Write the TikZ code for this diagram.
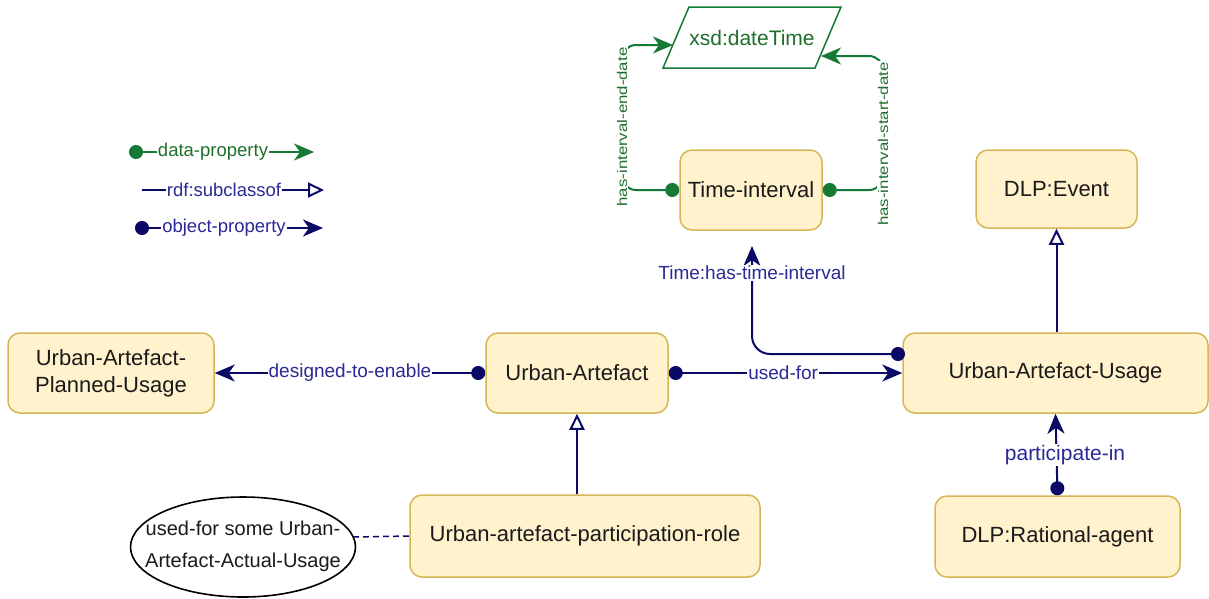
\documentclass[tikz,border=0pt]{standalone}
\usepackage{fontspec}
\setmainfont{Liberation Sans}
\usetikzlibrary{arrows.meta,shapes.geometric}
\definecolor{boxfill}{HTML}{FFF2CC}
\definecolor{boxdraw}{HTML}{D6B656}
\definecolor{objc}{HTML}{0A0A66}
\definecolor{objtxt}{HTML}{2A2A96}
\definecolor{datac}{HTML}{157A35}
\definecolor{datatxt}{HTML}{1F6E2C}
\definecolor{nodetxt}{HTML}{1A1A1A}
\tikzset{
  cls/.style={draw=boxdraw, fill=boxfill, line width=1.5pt, rounded corners=12pt,
    align=center, text=nodetxt, font=\fontsize{22}{27}\selectfont, inner sep=2pt},
  objedge/.style={draw=objc, line width=2pt, {Circle[length=14pt]}-{Stealth[length=20pt,width=17pt,inset=6pt]}},
  dataedge/.style={draw=datac, line width=2pt, {Circle[length=14pt]}-{Stealth[length=20pt,width=17pt,inset=6pt]}},
  subedge/.style={draw=objc, line width=2pt, -{Triangle[open,length=16pt,width=15pt,fill=white]}},
  elab/.style={fill=white, inner sep=1pt, text=objtxt, font=\fontsize{19}{22}\selectfont},
  dlab/.style={fill=white, inner sep=1pt, text=datatxt, font=\fontsize{14}{16}\selectfont},
  leglab/.style={fill=white, inner sep=1pt, font=\fontsize{18.5}{20}\selectfont},
}
\begin{document}
\begin{tikzpicture}[x=1pt,y=-1pt]
\useasboundingbox (0,0) rectangle (1209,598);

% class nodes
\node[cls, minimum width=206, minimum height=80] (uapu) at (111,373) {Urban-Artefact-\\Planned-Usage};
\node[cls, minimum width=182, minimum height=80] (ua) at (577,373) {Urban-Artefact};
\node[cls, minimum width=305, minimum height=80] (uau) at (1055.5,373) {Urban-Artefact-Usage};
\node[cls, minimum width=142, minimum height=80] (ti) at (751,190) {Time-interval};
\node[cls, minimum width=161, minimum height=78] (ev) at (1056.5,189) {DLP:Event};
\node[cls, minimum width=350, minimum height=82] (role) at (585,536) {Urban-artefact-participation-role};
\node[cls, minimum width=245, minimum height=81] (ra) at (1057.5,536.5) {DLP:Rational-agent};
\node[draw=black, line width=1.6pt, ellipse, minimum width=225, minimum height=100, inner sep=0pt] (ell) at (243,547) {};
\node[align=center, text=nodetxt, font=\fontsize{20}{32}\selectfont, inner sep=0pt] (elltxt) at (243,546)
  {used-for some Urban-\\Artefact-Actual-Usage};
\coordinate (ellE) at (353,537);

% xsd:dateTime parallelogram
\draw[datac, line width=1.5pt] (663,68) -- (689,7) -- (841,7) -- (815,68) -- cycle;
\node[text=datatxt, font=\fontsize{21}{24}\selectfont] (dt) at (752,38) {xsd:dateTime};
\coordinate (dtL) at (673,45);
\coordinate (dtR) at (821,56);

% object properties
\draw[objedge] (ua.west) -- node[elab]{designed-to-enable} (uapu.east);
\draw[objedge] (ua.east) -- node[elab, pos=0.49]{used-for} (uau.west);
\coordinate (tiS) at (752,246);
\coordinate (uauW) at (905,354);
\draw[objedge, rounded corners=18pt] (uauW) -| (tiS);
\node[elab] (tlab) at (752,273) {Time:has-time-interval};
\draw[objedge] (ra.north) -- (uau.south);
\node[elab, font=\fontsize{21}{24}\selectfont] (plab) at (1065,455) {participate-in};

% subclass
\draw[subedge] (uau.north -| ev.south) -- (ev.south);
\draw[subedge] (role.north -| ua.south) -- (ua.south);

% dashed annotation link
\draw[objc, line width=1.5pt, dash pattern=on 6pt off 4pt] (ellE) -- (role.west);

% data properties
\draw[dataedge, rounded corners=14pt] (ti.west) -- (622,190) |- (dtL);
\draw[dataedge, rounded corners=14pt] (ti.east) -- (883,190) |- (dtR);
\node[dlab, rotate=90] (endlab) at (622,127) {\scalebox{1.2}[1]{has-interval-end-date}};
\node[dlab, rotate=90] (startlab) at (883,144) {\scalebox{1.2}[1]{has-interval-start-date}};

% legend
\coordinate (l1a) at (129,152); \coordinate (l1b) at (314,152);
\coordinate (l2a) at (142,190); \coordinate (l2b) at (324,190);
\coordinate (l3a) at (135,228); \coordinate (l3b) at (323,228);
\draw[dataedge] (l1a) -- (l1b);
\node[leglab, text=datatxt] (lg1) at (213,152) {data-property};
\draw[subedge] (l2a) -- (l2b);
\node[leglab, text=objtxt] (lg2) at (224,190) {rdf:subclassof};
\draw[objedge] (l3a) -- (l3b);
\node[leglab, text=objtxt] (lg3) at (224,228) {object-property};
\end{tikzpicture}
\end{document}
